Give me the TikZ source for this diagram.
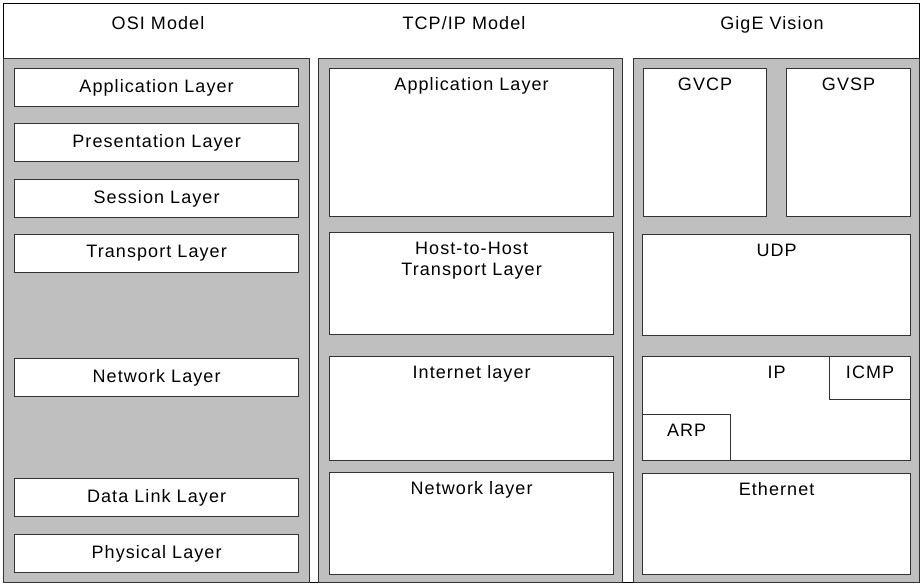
\documentclass[tikz,border=0pt]{standalone}
\usepackage{fontspec}
\setmainfont{Liberation Sans}[LetterSpace=6]
\usetikzlibrary{positioning}

\begin{document}
\begin{tikzpicture}[x=1pt,y=-1pt,font=\fontsize{18}{21}\selectfont,
  col/.style={draw=black!80,line width=1.2pt,fill=black!25,anchor=north west,inner sep=0pt},
  layer/.style={draw=black!80,line width=1.2pt,fill=white,anchor=north west,inner sep=0pt},
  tag/.style={anchor=north,inner sep=0pt,yshift=-9.5pt},
  title/.style={anchor=base,inner sep=0pt}]
  \useasboundingbox (0,0) rectangle (923,585);
  \node[draw=black,line width=0.8pt,anchor=north west,inner sep=0pt,
        minimum width=916pt,minimum height=579pt] (frame) at (3,3) {};
  % titles
  \node[title] (tOsi) at (158,29.5) {OSI Model};
  \node[title] (tTcp) at (464,29.5) {TCP/IP Model};
  \node[title] (tGige) at (772,29.5) {GigE Vision};
  % columns
  \node[col,minimum width=306pt,minimum height=524pt] (osi) at (3,58) {};
  \node[col,minimum width=304pt,minimum height=524pt] (tcp) at (318,58) {};
  \node[col,minimum width=286pt,minimum height=524pt] (gige) at (633,58) {};
  % OSI layers
  \foreach \n/\y/\t in {osiApp/68/Application Layer,osiPres/123/Presentation Layer,
      osiSes/179/Session Layer,osiTrans/234/Transport Layer,osiNet/358/Network Layer,
      osiLink/478/Data Link Layer,osiPhy/534/Physical Layer}
    \node[layer,minimum width=284pt,minimum height=38pt] (\n) at (14,\y) {\t};
  % TCP/IP layers
  \node[layer,minimum width=284pt,minimum height=148pt] (tcpApp) at (329,68) {};
  \node[layer,minimum width=284pt,minimum height=102pt] (tcpHost) at (329,232) {};
  \node[layer,minimum width=284pt,minimum height=104pt] (tcpInet) at (329,356) {};
  \node[layer,minimum width=284pt,minimum height=102pt] (tcpNet) at (329,472) {};
  \node[tag] (lTcpApp) at (tcpApp.north) {Application Layer};
  \node[tag,align=center] (lTcpHost) at (tcpHost.north) {Host-to-Host\\Transport Layer};
  \node[tag] (lTcpInet) at (tcpInet.north) {Internet layer};
  \node[tag] (lTcpNet) at (tcpNet.north) {Network layer};
  % GigE Vision
  \node[layer,minimum width=123pt,minimum height=148pt] (gvcp) at (643,68) {};
  \node[layer,minimum width=124pt,minimum height=148pt] (gvsp) at (786,68) {};
  \node[layer,minimum width=268pt,minimum height=101pt] (udp) at (642,234) {};
  \node[layer,minimum width=268pt,minimum height=104pt] (ip) at (642,356) {};
  \node[layer,minimum width=81pt,minimum height=43pt] (icmp) at (829,356) {};
  \node[layer,minimum width=88pt,minimum height=46pt] (arp) at (642,414) {};
  \node[layer,minimum width=268pt,minimum height=101pt] (eth) at (642,473) {};
  \node[tag] (lGvcp) at (gvcp.north) {GVCP};
  \node[tag] (lGvsp) at (gvsp.north) {GVSP};
  \node[tag] (lUdp) at (udp.north) {UDP};
  \node[tag] (lIp) at (ip.north) {IP};
  \node[tag] (lIcmp) at (icmp.north) {ICMP};
  \node[tag] (lArp) at (arp.north) {ARP};
  \node[tag] (lEth) at (eth.north) {Ethernet};
\end{tikzpicture}
\end{document}
